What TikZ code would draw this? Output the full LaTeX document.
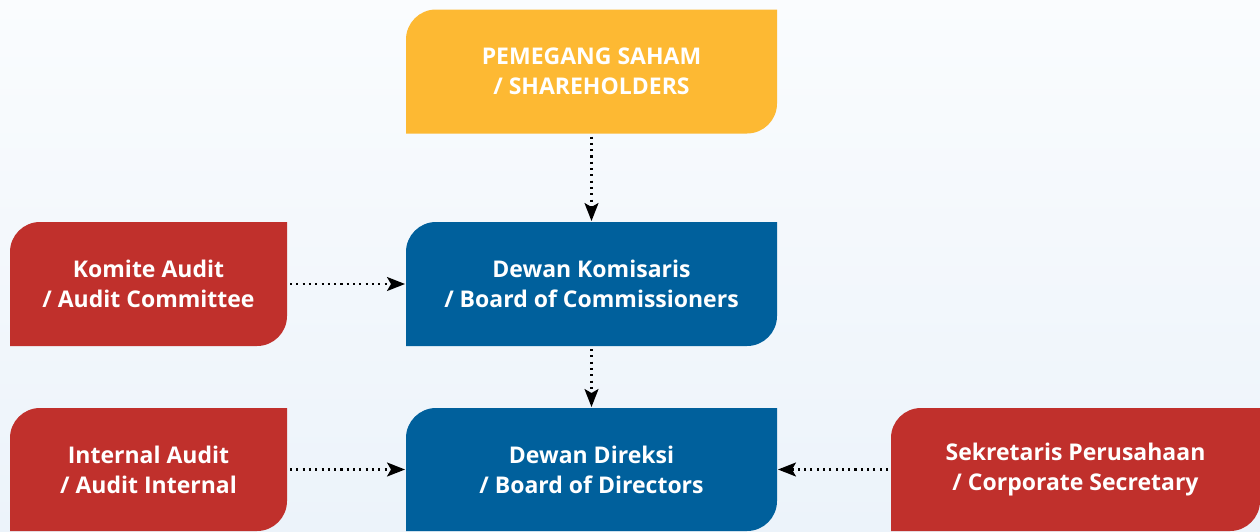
\documentclass[tikz,border=0pt]{standalone}
\usepackage{fontspec}
\setmainfont{Open Sans}
\usetikzlibrary{arrows.meta}
\definecolor{gold}{RGB}{253,185,51}
\definecolor{navy}{RGB}{0,96,156}
\definecolor{brick}{RGB}{192,48,44}
\definecolor{bgtop}{RGB}{250,252,254}
\definecolor{bgbot}{RGB}{236,243,250}
\tikzset{
  leaf/.style={rectangle, inner sep=0pt, outer sep=0pt, align=center,
    text=white, font=\fontsize{23}{30}\selectfont\bfseries,
    path picture={\fill[#1] (path picture bounding box.south west)
      -- ([yshift=-30pt]path picture bounding box.north west)
      arc[start angle=180,end angle=90,radius=30pt]
      -- (path picture bounding box.north east)
      -- ([yshift=30pt]path picture bounding box.south east)
      arc[start angle=0,end angle=-90,radius=30pt] -- cycle;}},
  wide/.style={minimum width=371pt, minimum height=124pt},
  side/.style={minimum width=277pt, minimum height=124pt},
  link/.style={line width=2.1pt, dash pattern=on 2.1pt off 4.2pt,
    -{Stealth[length=18pt,width=14pt,inset=4pt]}, shorten >=1pt, shorten <=3pt}
}
\begin{document}
\begin{tikzpicture}[x=1pt,y=-1pt]
\useasboundingbox (0,0) rectangle (1260,531);
\shade[top color=bgtop, bottom color=bgbot] (0,0) rectangle (1260,531);
\node[leaf=gold, wide] (sh) at (591.5,71.5) {PEMEGANG SAHAM\\/ SHAREHOLDERS};
\node[leaf=navy, wide] (bc) at (591.5,284) {Dewan Komisaris\\/ Board of Commissioners};
\node[leaf=navy, wide, minimum height=123pt] (bd) at (591.5,469.5) {Dewan Direksi\\/ Board of Directors};
\node[leaf=brick, side] (ac) at (148.5,284) {Komite Audit\\/ Audit Committee};
\node[leaf=brick, side, minimum height=123pt] (ia) at (148.5,469.5) {Internal Audit\\/ Audit Internal};
\node[leaf=brick, minimum width=369pt, minimum height=123pt] (cs) at (1075.5,469.5) {Sekretaris Perusahaan\\/ Corporate Secretary};
\draw[link] (sh) -- (bc);
\draw[link] (bc) -- (bd);
\draw[link] (ac) -- (bc);
\draw[link] (ia) -- (bd);
\draw[link] (cs) -- (bd);
\end{tikzpicture}
\end{document}
